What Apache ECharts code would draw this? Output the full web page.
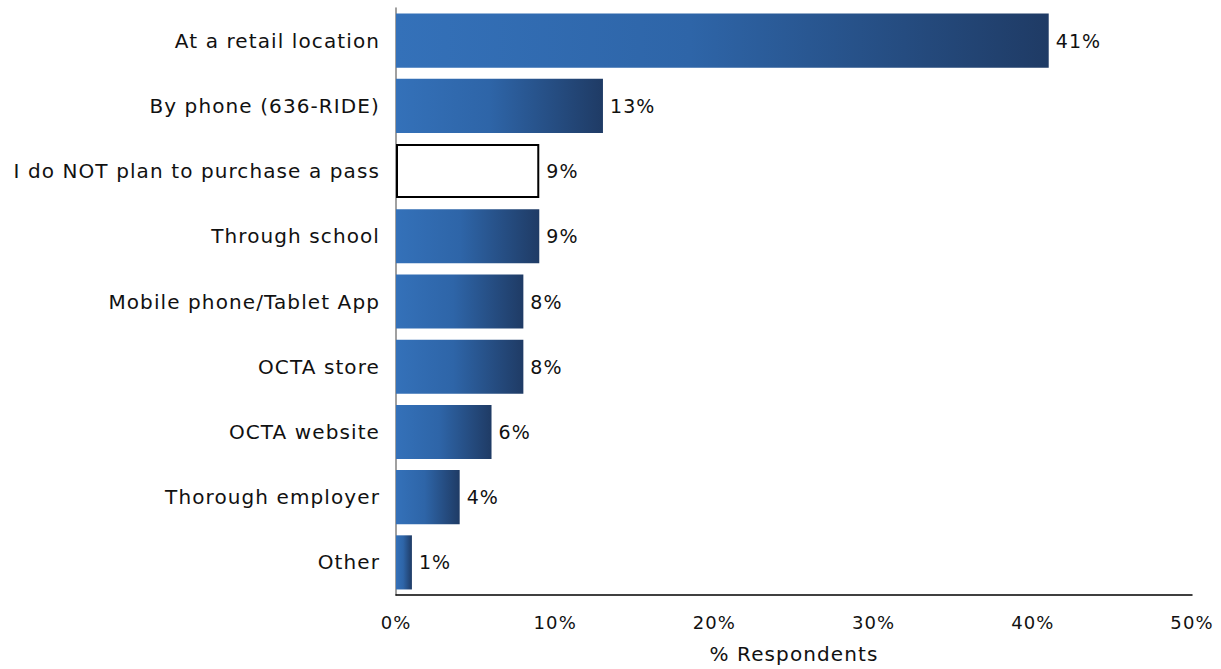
<!DOCTYPE html>
<html>
<head>
<meta charset="utf-8">
<script src="https://cdn.jsdelivr.net/npm/echarts@6/dist/echarts.min.js"></script>
<style>
  html, body { margin: 0; padding: 0; background: #fff; }
  #chart { width: 1221px; height: 669px; }
  /* slightly open tracking for all chart text */
  #chart svg text { letter-spacing: 1.1px; }
</style>
</head>
<body>
<div id="chart"></div>
<script>
// Purchase channels, listed top to bottom
const categories = [
  "At a retail location",
  "By phone (636-RIDE)",
  "I do NOT plan to purchase a pass",
  "Through school",
  "Mobile phone/Tablet App",
  "OCTA store",
  "OCTA website",
  "Thorough employer",
  "Other"
];
// Share of respondents (%)
const shares = [41, 13, 9, 9, 8, 8, 6, 4, 1];
// Category drawn as an outlined, unfilled bar
const outlinedCategory = "I do NOT plan to purchase a pass";
const xTicks = [0, 10, 20, 30, 40, 50];

const FONT = "DejaVu Sans";

const blueGradient = new echarts.graphic.LinearGradient(0, 0, 1, 0, [
  { offset: 0, color: "#3471b9" },
  { offset: 0.45, color: "#2e65a8" },
  { offset: 1, color: "#1f3b65" }
]);

// Reverse so the first category sits at the top of the category axis
const cats = categories.slice().reverse();
const vals = shares.slice().reverse();

const data = vals.map((v, i) => {
  if (cats[i] === outlinedCategory) {
    return {
      value: v,
      itemStyle: { color: "#ffffff", borderColor: "#000000", borderWidth: 2 }
    };
  }
  return { value: v, itemStyle: { color: blueGradient } };
});

const chart = echarts.init(document.getElementById("chart"), null, { renderer: "svg" });
chart.setOption({
  animation: false,
  backgroundColor: "#ffffff",
  grid: { left: 396, right: 29, top: 8, bottom: 69, containLabel: false },
  xAxis: {
    type: "value",
    min: xTicks[0],
    max: xTicks[xTicks.length - 1],
    interval: 10,
    name: "% Respondents",
    nameLocation: "middle",
    nameGap: 49,
    nameTextStyle: { fontFamily: FONT, fontSize: 20, color: "#111" },
    axisLine: { show: true, lineStyle: { color: "#000", width: 1.5 } },
    axisTick: { show: false },
    splitLine: { show: false },
    axisLabel: {
      fontFamily: FONT, fontSize: 18, color: "#111", margin: 18,
      formatter: v => v + "%"
    }
  },
  yAxis: {
    type: "category",
    data: cats,
    axisLine: { show: true, lineStyle: { color: "#808080", width: 1.5 } },
    axisTick: { show: false },
    axisLabel: { fontFamily: FONT, fontSize: 20, color: "#111", margin: 16 }
  },
  series: [{
    type: "bar",
    data: data,
    barCategoryGap: "17%",
    label: {
      show: true,
      position: "right",
      distance: 7,
      fontFamily: FONT,
      fontSize: 19,
      color: "#111",
      formatter: p => p.value + "%"
    }
  }]
});
</script>
</body>
</html>
